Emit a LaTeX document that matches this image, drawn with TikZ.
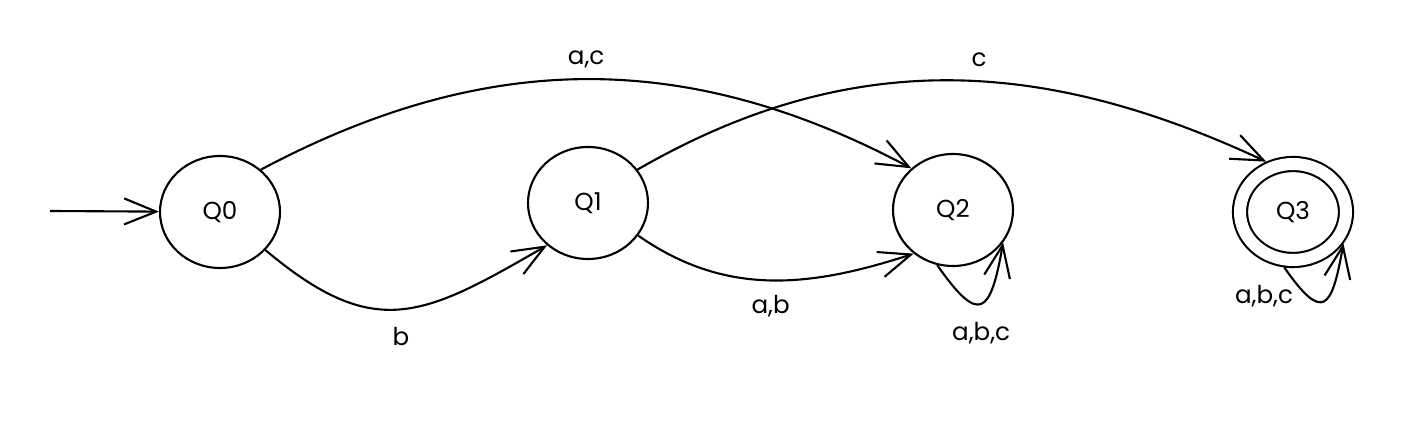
\documentclass[tikz,border=0pt]{standalone}
\usepackage{fontspec}
\setmainfont{Poppins}
\usetikzlibrary{arrows.meta,shapes.geometric}

\begin{document}
\begin{tikzpicture}[
  font=\fontsize{7}{8}\selectfont,
  line width=0.6pt,
  state/.style={draw, ellipse, inner sep=0pt, minimum width=1.2cm, minimum height=1.12cm},
  accept/.style={state, double, double distance=0.12cm, minimum width=1.06cm, minimum height=0.96cm, outer sep=0.08cm},
  arrow/.style={-{Straight Barb[length=3.2mm, width=2.6mm]}},
  lbl/.style={inner sep=0pt}
]
\useasboundingbox (0,0) rectangle (14.22,4.22);

\coordinate (start) at (0.50,2.11);
\node[state] (q0) at (2.20,2.10) {Q0};
\node[state] (q1) at (5.88,2.19) {Q1};
\node[state] (q2) at (9.53,2.12) {Q2};
\node[accept] (q3) at (12.93,2.10) {Q3};

\draw[arrow] (start) -- (q0);

\draw[arrow] (q0.46) to[out=28, in=152] node[lbl, pos=0.5, above=3pt] (lac) {a,c} (q2.135);
\draw[arrow] (q0.-40) to[out=-40, in=-150, looseness=1.3] node[lbl, pos=0.5, below=5pt] (lb) {b} (q1.-134);
\draw[arrow] (q1.34) to[out=30, in=155] node[lbl, pos=0.55, above=4pt] (lc) {c} (q3.118);
\draw[arrow] (q1.-33) to[out=-35, in=-162] node[lbl, pos=0.5, below=4pt] (lab) {a,b} (q2.-132);

\draw[arrow] (q2.-106) to[out=-55, in=-100, looseness=2.7] node[lbl, pos=0.5, below=5pt] (labc2) {a,b,c} (q2.-33);
\draw[arrow] (q3.-99) to[out=-55, in=-100, looseness=2.7] node[lbl, pos=0.25, left=4pt] (labc3) {a,b,c} (q3.-32);
\end{tikzpicture}
\end{document}
